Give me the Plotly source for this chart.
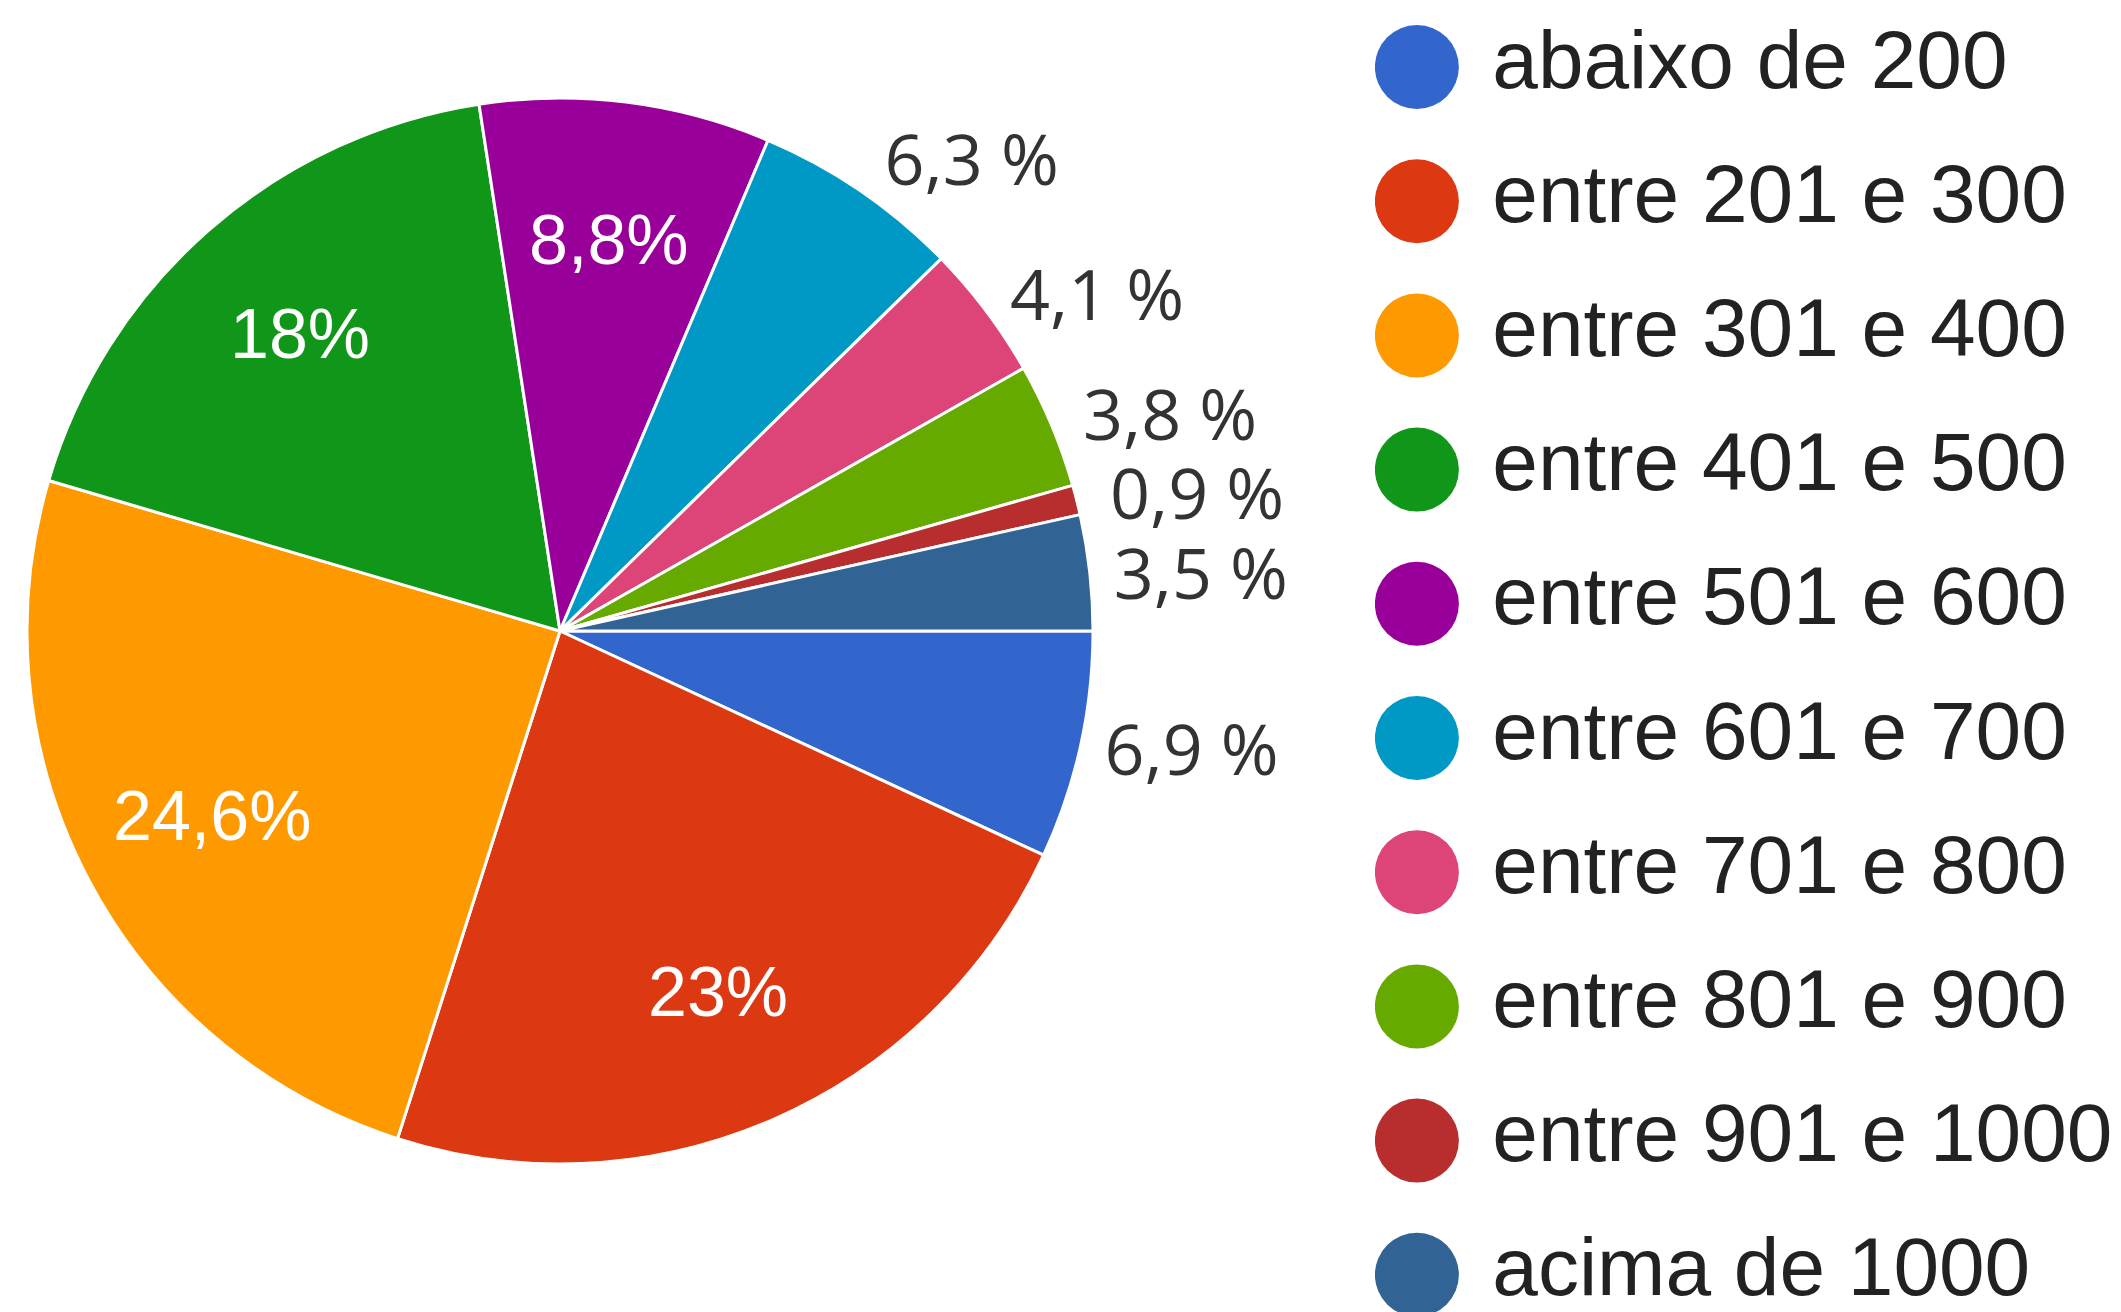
import math
import plotly.graph_objects as go

categories = ["abaixo de 200", "entre 201 e 300", "entre 301 e 400", "entre 401 e 500",
              "entre 501 e 600", "entre 601 e 700", "entre 701 e 800", "entre 801 e 900",
              "entre 901 e 1000", "acima de 1000"]
values = [6.9, 23.0, 24.6, 18.0, 8.8, 6.3, 4.1, 3.8, 0.9, 3.5]
colors = ["#3366CC", "#DC3912", "#FF9900", "#109618", "#990099",
          "#0099C6", "#DD4477", "#66AA00", "#B82E2E", "#316395"]
# label style per slice: "in" = white label inside, "out" = native outside label,
# "ann" = outside label placed radially (avoids connector lines)
label_mode = ["out", "in", "in", "in", "in", "out", "out", "ann", "ann", "out"]

def fmt(v, inside):
    s = f"{v:g}".replace(".", ",")
    return s + ("%" if inside else " %")

texts = [fmt(v, m == "in") for v, m in zip(values, label_mode)]
positions = ["outside" if m == "out" else "none" for m in label_mode]

W, H = 2121, 1312
OFF = 8  # page body margin offset
cx, cy, r = 560 - OFF, 631 - OFF, 533

fig = go.Figure()
fig.add_trace(go.Pie(
    labels=categories, values=values, text=texts, textinfo="text",
    textposition=positions, sort=False, direction="clockwise", rotation=90,
    marker=dict(colors=colors, line=dict(color="white", width=3)),
    outsidetextfont=dict(family="Open Sans", size=70, color="#333333"),
    domain=dict(x=[(cx - r) / W, (cx + r) / W], y=[(H - cy - r) / H, (H - cy + r) / H]),
    showlegend=False, hoverinfo="label+percent",
))

# labels placed along each slice's mid-angle (start at 3 o'clock, clockwise)
total = sum(values)
annotations = []
cum = 0.0
for v, t, m in zip(values, texts, label_mode):
    mid = (cum + v / 2) / total * 2 * math.pi
    cum += v
    if m == "in":
        rr = 0.74 * r
        annotations.append(dict(
            x=(cx + rr * math.cos(mid)) / W, y=(H - cy - rr * math.sin(mid)) / H,
            xref="paper", yref="paper", text=t, showarrow=False,
            xanchor="center", yanchor="middle",
            font=dict(family="Liberation Sans, Arial", size=70, color="white")))
    elif m == "ann":
        rr = 1.06 * r
        annotations.append(dict(
            x=(cx + rr * math.cos(mid)) / W, y=(H - cy - rr * math.sin(mid)) / H,
            xref="paper", yref="paper", text=t, showarrow=False,
            xanchor="left", yanchor="middle",
            font=dict(family="Open Sans", size=70, color="#333333")))

# custom legend drawn as a scatter on its own axes
idx = list(range(len(categories)))
fig.add_trace(go.Scatter(
    x=[0] * len(categories), y=idx, mode="markers",
    marker=dict(color=colors, size=84, line=dict(width=0)),
    xaxis="x2", yaxis="y2", showlegend=False, hoverinfo="skip",
))
fig.add_trace(go.Scatter(
    x=[0.9] * len(categories), y=idx, mode="text", text=categories,
    textposition="middle right",
    textfont=dict(family="Liberation Sans, Arial", size=82, color="#222222"),
    xaxis="x2", yaxis="y2", showlegend=False, hoverinfo="skip",
))

x0 = 1367
fig.update_layout(
    width=W, height=H, margin=dict(l=0, r=0, t=0, b=0),
    paper_bgcolor="white", plot_bgcolor="rgba(0,0,0,0)",
    xaxis2=dict(domain=[x0 / W, 1], range=[-0.5, 8.5], visible=False, fixedrange=True),
    yaxis2=dict(domain=[0, 1], range=[9.337, -0.44], visible=False, fixedrange=True),
    annotations=annotations,
)
fig.write_html("out.html")
